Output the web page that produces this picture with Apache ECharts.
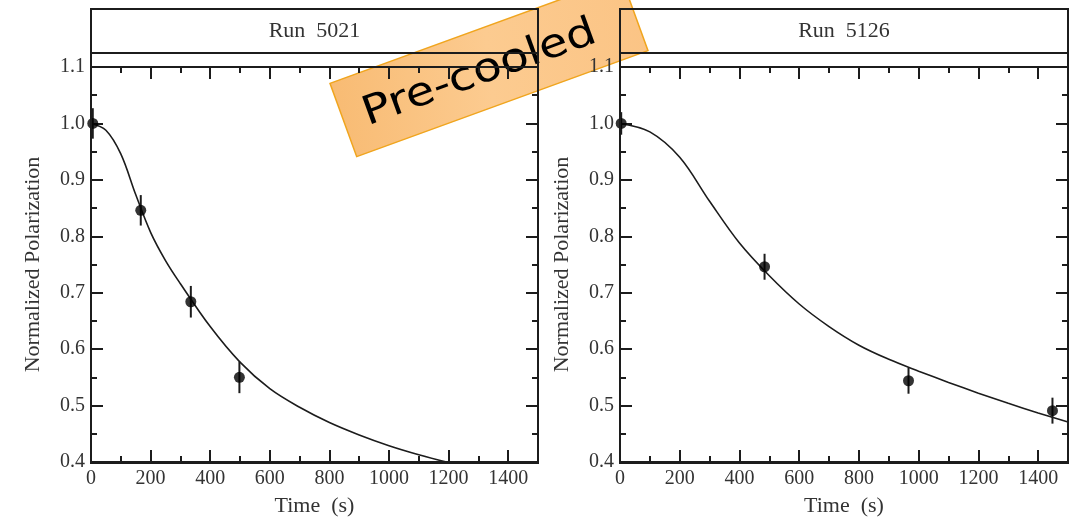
<!DOCTYPE html>
<html>
<head>
<meta charset="utf-8">
<script src="https://cdn.jsdelivr.net/npm/echarts@6/dist/echarts.min.js"></script>
<style>html,body{margin:0;padding:0;background:#fff}#c{width:1087px;height:522px}</style>
</head>
<body>
<div id="c"></div>
<script>
// ---- data ----
const panelTitles = ['Run  5021', 'Run  5126'];
const xTickLabels = ['0','200','400','600','800','1000','1200','1400'];
const yTickLabels = ['0.4','0.5','0.6','0.7','0.8','0.9','1.0','1.1'];

const pointsT1 = [6, 167, 335, 498];
const pointsV1 = [1.0, 0.846, 0.684, 0.55];
const errors1  = [0.027, 0.027, 0.028, 0.028];

const pointsT2 = [4, 484, 966, 1448];
const pointsV2 = [1.0, 0.746, 0.544, 0.491];
const errors2  = [0.02, 0.023, 0.023, 0.023];

const curveT1 = [0, 50, 100, 150, 200, 250, 300, 400, 500, 600, 700, 800, 900, 1000, 1100, 1200];
const curveV1 = [1.0, 0.988, 0.946, 0.874, 0.807, 0.757, 0.716, 0.640, 0.577, 0.530, 0.497, 0.470, 0.448, 0.429, 0.413, 0.399];

const curveT2 = [0, 100, 200, 300, 400, 500, 600, 700, 800, 900, 1000, 1100, 1200, 1300, 1400, 1500];
const curveV2 = [1.0, 0.985, 0.940, 0.862, 0.788, 0.730, 0.680, 0.640, 0.607, 0.582, 0.561, 0.541, 0.522, 0.504, 0.487, 0.471];

const overlayLabel = 'Pre-cooled';

// ---- layout ----
const panels = [{left: 91, width: 447}, {left: 620, width: 448}];
const TOP = 67, BOTTOM = 463, HEAD_TOP = 9, HEAD_BOT = 53;
const INK = '#1c1c1c', TXT = '#333';
const SERIF = 'Liberation Serif';

const zip = (a, b) => a.map((v, i) => [v, b[i]]);

const grids = [], xAxes = [], yAxes = [], series = [], graphics = [];

panels.forEach((p, i) => {
  grids.push({left: p.left, top: TOP, width: p.width, height: BOTTOM - TOP, containLabel: false});
  const xBase = {
    type: 'value', gridIndex: i, min: 0, max: 1500, interval: 200,
    axisLine: {show: true, onZero: false, lineStyle: {color: INK, width: 2}},
    axisTick: {show: true, inside: true, length: 12, lineStyle: {color: INK, width: 2}},
    minorTick: {show: true, splitNumber: 2, length: 6, lineStyle: {color: INK, width: 2}},
    splitLine: {show: false}
  };
  xAxes.push(Object.assign({}, xBase, {
    position: 'bottom',
    name: 'Time  (s)', nameLocation: 'middle', nameGap: 33,
    nameTextStyle: {fontFamily: SERIF, fontSize: 22, color: TXT},
    axisLabel: {show: true, margin: 7, fontFamily: SERIF, fontSize: 20, color: TXT,
      formatter: v => { const s = String(v); return xTickLabels.indexOf(s) >= 0 ? s : ''; }}
  }));
  xAxes.push(Object.assign({}, xBase, {position: 'top', axisLabel: {show: false}}));
  const yBase = {
    type: 'value', gridIndex: i, min: 0.4, max: 1.1, interval: 0.1,
    axisLine: {show: true, onZero: false, lineStyle: {color: INK, width: 2}},
    axisTick: {show: true, inside: true, length: 12, lineStyle: {color: INK, width: 2}},
    minorTick: {show: true, splitNumber: 2, length: 6, lineStyle: {color: INK, width: 2}},
    splitLine: {show: false}
  };
  yAxes.push(Object.assign({}, yBase, {
    position: 'left',
    name: 'Normalized Polarization', nameLocation: 'middle', nameGap: 47,
    nameTextStyle: {fontFamily: SERIF, fontSize: 22, color: TXT},
    axisLabel: {show: true, margin: 6, fontFamily: SERIF, fontSize: 20, color: TXT,
      formatter: v => { const s = v.toFixed(1); return yTickLabels.indexOf(s) >= 0 ? s : ''; }}
  }));
  yAxes.push(Object.assign({}, yBase, {position: 'right', axisLabel: {show: false}}));

  // header strip
  graphics.push({type: 'rect', shape: {x: p.left, y: HEAD_TOP, width: p.width, height: BOTTOM - HEAD_TOP},
    style: {fill: 'none', stroke: INK, lineWidth: 2}, z: 10});
  graphics.push({type: 'line', shape: {x1: p.left, y1: HEAD_BOT, x2: p.left + p.width, y2: HEAD_BOT},
    style: {stroke: INK, lineWidth: 2}, z: 10});
  graphics.push({type: 'text', x: p.left + p.width / 2, y: (HEAD_TOP + HEAD_BOT) / 2,
    style: {text: panelTitles[i], font: '22px "' + SERIF + '"', fill: TXT, textAlign: 'center', textVerticalAlign: 'middle'}, z: 10});
});

const sets = [
  {ct: curveT1, cv: curveV1, pt: pointsT1, pv: pointsV1, er: errors1},
  {ct: curveT2, cv: curveV2, pt: pointsT2, pv: pointsV2, er: errors2}
];
sets.forEach((s, i) => {
  series.push({type: 'line', xAxisIndex: 2 * i, yAxisIndex: 2 * i, data: zip(s.ct, s.cv),
    smooth: 0.35, showSymbol: false, clip: true, lineStyle: {color: INK, width: 1.6}, z: 3, silent: true});
  series.push({type: 'custom', xAxisIndex: 2 * i, yAxisIndex: 2 * i,
    data: s.pt.map((t, k) => [t, s.pv[k] - s.er[k], s.pv[k] + s.er[k]]),
    renderItem: (params, api) => {
      const a = api.coord([api.value(0), api.value(1)]);
      const b = api.coord([api.value(0), api.value(2)]);
      return {type: 'line', shape: {x1: a[0], y1: a[1], x2: b[0], y2: b[1]}, style: {stroke: INK, lineWidth: 2}};
    }, z: 4, silent: true});
  series.push({type: 'scatter', xAxisIndex: 2 * i, yAxisIndex: 2 * i, data: zip(s.pt, s.pv),
    symbol: 'circle', symbolSize: 11, itemStyle: {color: '#000'}, z: 5, clip: false, silent: true});
});

// overlay label
graphics.push({
  type: 'group', x: 489, y: 67, rotation: 20 * Math.PI / 180, z: 100,
  children: [
    {type: 'rect', shape: {x: -155, y: -39, width: 310, height: 78},
      style: {fill: new echarts.graphic.LinearGradient(0, 0, 1, 1, [
        {offset: 0, color: '#f8bb73'}, {offset: 0.5, color: '#fccb90'}, {offset: 1, color: '#fbc485'}]),
        stroke: '#f0a51e', lineWidth: 1.5}},
    {type: 'text', x: -11, y: 3, scaleX: 1.17,
      style: {text: overlayLabel, font: '40px "DejaVu Sans"', fill: '#000', textAlign: 'center', textVerticalAlign: 'middle'}}
  ]
});

const chart = echarts.init(document.getElementById('c'), null, {renderer: 'canvas'});
chart.setOption({
  animation: false,
  backgroundColor: '#fff',
  grid: grids, xAxis: xAxes, yAxis: yAxes, series: series, graphic: graphics
});
</script>
</body>
</html>
